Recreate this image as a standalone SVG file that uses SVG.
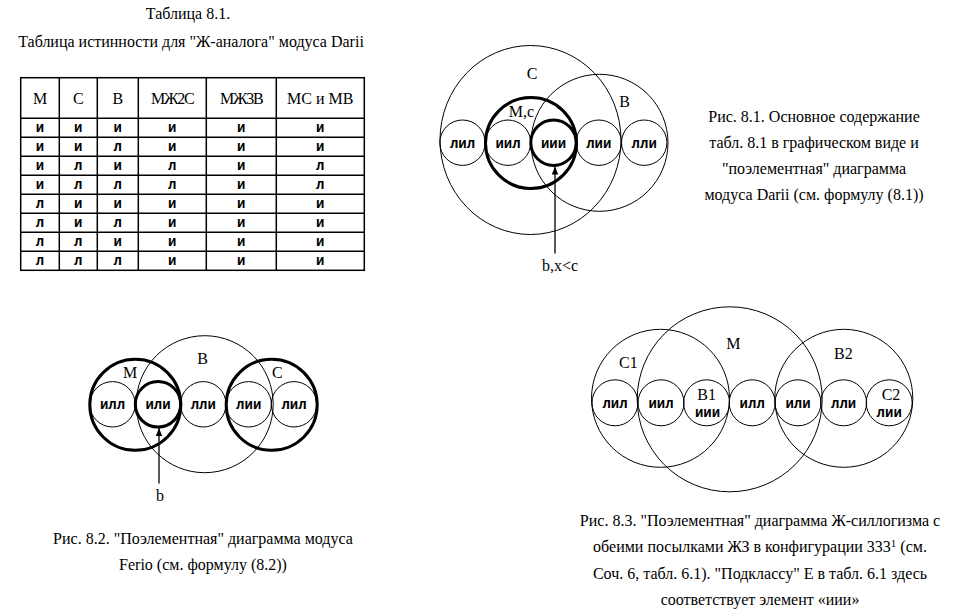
<svg xmlns="http://www.w3.org/2000/svg" width="963" height="616" viewBox="0 0 963 616">
<defs>
<style>
.t{font-family:'Liberation Serif','Times New Roman','DejaVu Serif',serif;font-size:16px;fill:#000;text-anchor:middle}
.m{font-family:'Liberation Mono','Courier New','DejaVu Sans Mono',monospace;font-size:14px;font-weight:bold;fill:#000;text-anchor:middle}
.c{fill:none;stroke:#000;stroke-width:1}
.k{fill:none;stroke:#000;stroke-width:3}
.g{stroke:#000;stroke-width:1.5;fill:none}
.a{stroke:#000;stroke-width:1.3;fill:none}
</style>
<marker id="ah" viewBox="0 0 10 10" refX="10" refY="5" markerWidth="8" markerHeight="8" markerUnits="userSpaceOnUse" orient="auto">
<path d="M0,1 L10,5 L0,9 Z" fill="#000"/>
</marker>
</defs>
<rect width="963" height="616" fill="#fff"/>

<g id="table">
<text class="t" x="188" y="19" font-size="15.2">Таблица 8.1.</text>
<text class="t" x="191" y="47" font-size="15.2">Таблица истинности для "Ж-аналога" модуса Darii</text>
<rect class="g" x="20.7" y="77.7" width="343.6" height="192.6"/>
<path class="g" d="M59.3,77.7V270.3M97.3,77.7V270.3M138.3,77.7V270.3M206.3,77.7V270.3M276.3,77.7V270.3M20.7,118.3H364.3M20.7,137.3H364.3M20.7,156.3H364.3M20.7,175.3H364.3M20.7,194.3H364.3M20.7,213.3H364.3M20.7,232.3H364.3M20.7,251.3H364.3"/>
<g class="t">
<text x="40" y="103.5">М</text><text x="78.3" y="103.5">С</text><text x="117.8" y="103.5">В</text>
<text x="172.3" y="103.5" letter-spacing="-1.2">МЖ2С</text><text x="241.3" y="103.5" letter-spacing="-1.2">МЖ3В</text><text x="320.3" y="103.5">МС и МВ</text>
</g>
<g class="m">
<text x="40" y="132">и</text><text x="78.3" y="132">и</text><text x="117.8" y="132">и</text><text x="172.3" y="132">и</text><text x="241.3" y="132">и</text><text x="320.3" y="132">и</text>
<text x="40" y="151">и</text><text x="78.3" y="151">и</text><text x="117.8" y="151">л</text><text x="172.3" y="151">и</text><text x="241.3" y="151">и</text><text x="320.3" y="151">и</text>
<text x="40" y="170">и</text><text x="78.3" y="170">л</text><text x="117.8" y="170">и</text><text x="172.3" y="170">л</text><text x="241.3" y="170">и</text><text x="320.3" y="170">л</text>
<text x="40" y="189">и</text><text x="78.3" y="189">л</text><text x="117.8" y="189">л</text><text x="172.3" y="189">л</text><text x="241.3" y="189">и</text><text x="320.3" y="189">л</text>
<text x="40" y="208">л</text><text x="78.3" y="208">и</text><text x="117.8" y="208">и</text><text x="172.3" y="208">и</text><text x="241.3" y="208">и</text><text x="320.3" y="208">и</text>
<text x="40" y="227">л</text><text x="78.3" y="227">и</text><text x="117.8" y="227">л</text><text x="172.3" y="227">и</text><text x="241.3" y="227">и</text><text x="320.3" y="227">и</text>
<text x="40" y="246">л</text><text x="78.3" y="246">л</text><text x="117.8" y="246">и</text><text x="172.3" y="246">и</text><text x="241.3" y="246">и</text><text x="320.3" y="246">и</text>
<text x="40" y="265">л</text><text x="78.3" y="265">л</text><text x="117.8" y="265">л</text><text x="172.3" y="265">и</text><text x="241.3" y="265">и</text><text x="320.3" y="265">и</text>
</g>
</g>

<g id="fig81">
<ellipse class="c" cx="530.5" cy="140" rx="90.5" ry="94.5"/>
<circle class="c" cx="599.5" cy="142.8" r="68.5"/>
<circle class="k" cx="531" cy="143" r="45.5"/>
<circle class="c" cx="462.5" cy="142.7" r="22.7"/>
<circle class="c" cx="508" cy="142.7" r="22.7"/>
<circle class="k" cx="553.5" cy="142.7" r="22.7"/>
<circle class="c" cx="598.8" cy="142.7" r="22.7"/>
<circle class="c" cx="644.2" cy="142.7" r="22.7"/>
<g class="m">
<text x="462.5" y="147.5">лил</text><text x="508" y="147.5">иил</text><text x="553.5" y="147.5">иии</text><text x="598.8" y="147.5">лии</text><text x="644.2" y="147.5">лли</text>
</g>
<text class="t" x="532" y="78.5">С</text>
<text class="t" x="521.5" y="117">М,с</text>
<text class="t" x="624.5" y="107">В</text>
<text class="t" x="560" y="270.5">b,x&lt;c</text>
</g>

<g id="fig82">
<circle class="c" cx="204.7" cy="404.2" r="68.5"/>
<circle class="k" cx="135.3" cy="404.8" r="45.5"/>
<circle class="k" cx="271.7" cy="404.8" r="45.5"/>
<circle class="c" cx="112.5" cy="404.3" r="22.7"/>
<circle class="k" cx="158" cy="404.3" r="22.7"/>
<circle class="c" cx="203.3" cy="404.3" r="22.7"/>
<circle class="c" cx="248.7" cy="404.3" r="22.7"/>
<circle class="c" cx="294" cy="404.3" r="22.7"/>
<g class="m">
<text x="112.5" y="409">илл</text><text x="158" y="409">или</text><text x="203.3" y="409">лли</text><text x="248.7" y="409">лии</text><text x="294" y="409">лил</text>
</g>
<text class="t" x="130" y="377.5">М</text>
<text class="t" x="202.7" y="364">В</text>
<text class="t" x="277.3" y="377.5">С</text>
<text class="t" x="160" y="500.5">b</text>
</g>

<g id="fig83">
<circle class="c" cx="660.5" cy="398.3" r="69"/>
<circle class="c" cx="729.7" cy="399.3" r="92.5"/>
<circle class="c" cx="843.8" cy="398.3" r="69"/>
<circle class="c" cx="615" cy="402.8" r="23"/>
<circle class="c" cx="661" cy="402.8" r="23"/>
<circle class="c" cx="706.6" cy="402.8" r="23"/>
<circle class="c" cx="752.2" cy="402.8" r="23"/>
<circle class="c" cx="798" cy="402.8" r="23"/>
<circle class="c" cx="843.6" cy="402.8" r="23"/>
<circle class="c" cx="889.2" cy="402.8" r="23"/>
<g class="m">
<text x="615" y="407.5">лил</text><text x="661" y="407.5">иил</text><text x="707.5" y="416.5">иии</text><text x="752.2" y="407.5">илл</text><text x="798" y="407.5">или</text><text x="843.6" y="407.5">лли</text><text x="889.2" y="416.5">лии</text>
</g>
<text class="t" x="733.3" y="348.5">М</text>
<text class="t" x="628.3" y="367.5">С1</text>
<text class="t" x="843.3" y="358.5">В2</text>
<text class="t" x="706.7" y="399.5">В1</text>
<text class="t" x="891" y="399.5">С2</text>
</g>

<g id="connectors">
<line class="a" x1="555" y1="253.5" x2="555" y2="166.5" marker-end="url(#ah)"/>
<line class="a" x1="159" y1="483.5" x2="159" y2="428" marker-end="url(#ah)"/>
</g>

<g id="captions">
<text class="t" x="814" y="122">Рис. 8.1. Основное содержание</text>
<text class="t" x="814" y="148">табл. 8.1 в графическом виде и</text>
<text class="t" x="814" y="174">"поэлементная" диаграмма</text>
<text class="t" x="814" y="200">модуса Darii (см. формулу (8.1))</text>
<text class="t" x="203" y="543.5">Рис. 8.2. "Поэлементная" диаграмма модуса</text>
<text class="t" x="203" y="569.5">Ferio (см. формулу (8.2))</text>
<text class="t" x="760" y="525.5">Рис. 8.3. "Поэлементная" диаграмма Ж-силлогизма с</text>
<text class="t" x="760" y="552">обеими посылками ЖЗ в конфигурации 333<tspan font-size="11" dy="-5">1</tspan><tspan dy="5"> (см.</tspan></text>
<text class="t" x="760" y="578.5">Соч. 6, табл. 6.1). "Подклассу" Е в табл. 6.1 здесь</text>
<text class="t" x="760" y="604.5">соответствует элемент «иии»</text>
</g>
</svg>
